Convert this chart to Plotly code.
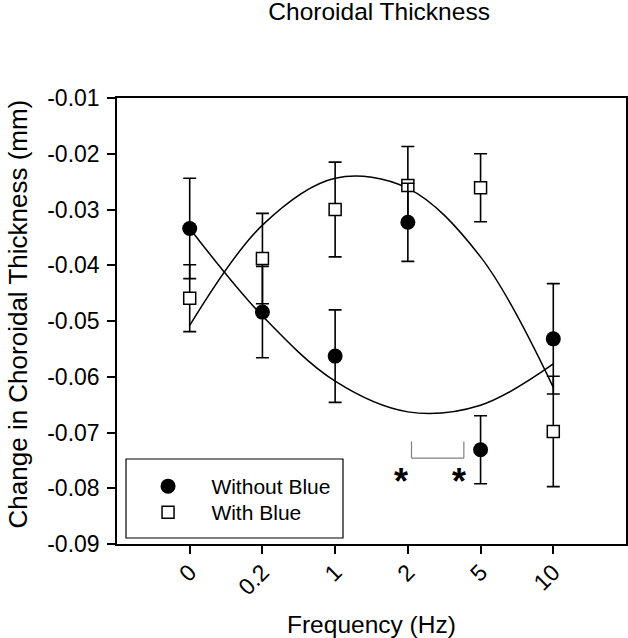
import plotly.graph_objects as go

# ---- data ----
freq_labels = ["0", "0.2", "1", "2", "5", "10"]

without_blue = [-0.0334, -0.0484, -0.0563, -0.0323, -0.0731, -0.0532]
without_blue_err = [0.0090, 0.0082, 0.0083, 0.0070, 0.0061, 0.0099]

with_blue = [-0.0459, -0.0388, -0.0300, -0.0257, -0.0261, -0.0698]
with_blue_err = [0.0060, 0.0081, 0.0085, 0.0070, 0.0061, 0.0099]

# fitted curves as drawn in the reference (value at each frequency)
without_blue_fit = [-0.0334, -0.0491, -0.0608, -0.0663, -0.0651, -0.0577]
with_blue_fit = [-0.0508, -0.0328, -0.0244, -0.0262, -0.0385, -0.0619]

y_tick_vals = [-0.01, -0.02, -0.03, -0.04, -0.05, -0.06, -0.07, -0.08, -0.09]
y_tick_text = ["-0.01", "-0.02", "-0.03", "-0.04", "-0.05", "-0.06", "-0.07", "-0.08", "-0.09"]

FONT = "Arial, 'Liberation Sans', Helvetica, sans-serif"
NBSP = "\u00a0" * 4

fig = go.Figure()

# fitted curves
fig.add_trace(go.Scatter(
    x=freq_labels, y=without_blue_fit, mode="lines",
    line=dict(color="black", width=1.5, shape="spline", smoothing=1.0),
    showlegend=False, hoverinfo="skip"))
fig.add_trace(go.Scatter(
    x=freq_labels, y=with_blue_fit, mode="lines",
    line=dict(color="black", width=1.5, shape="spline", smoothing=1.0),
    showlegend=False, hoverinfo="skip"))

# With Blue (open squares)
fig.add_trace(go.Scatter(
    x=freq_labels, y=with_blue, mode="markers", name=NBSP + "With Blue",
    legend="legend2",
    marker=dict(symbol="square", size=12, color="white",
                line=dict(color="black", width=1.5)),
    error_y=dict(type="data", array=with_blue_err, visible=True,
                 color="black", thickness=1.6, width=6.5)))

# Without Blue (filled circles)
fig.add_trace(go.Scatter(
    x=freq_labels, y=without_blue, mode="markers", name=NBSP + "Without Blue",
    legend="legend",
    marker=dict(symbol="circle", size=15, color="black",
                line=dict(color="black", width=0)),
    error_y=dict(type="data", array=without_blue_err, visible=True,
                 color="black", thickness=1.6, width=6.5)))

# significance bracket
bracket_color = "#808080"
fig.add_shape(type="line", xref="x", yref="y", x0=3.05, x1=3.05, y0=-0.0716, y1=-0.0746,
              line=dict(color=bracket_color, width=1.2))
fig.add_shape(type="line", xref="x", yref="y", x0=3.05, x1=3.77, y0=-0.0746, y1=-0.0746,
              line=dict(color=bracket_color, width=1.2))
fig.add_shape(type="line", xref="x", yref="y", x0=3.77, x1=3.77, y0=-0.0716, y1=-0.0746,
              line=dict(color=bracket_color, width=1.2))

for ax in (2.9, 3.7):
    fig.add_annotation(x=ax, y=-0.0783, xref="x", yref="y", text="<b>*</b>",
                       showarrow=False, yshift=-3,
                       font=dict(family=FONT, size=36, color="black"))

# legend frame
fig.add_shape(type="rect", xref="paper", yref="paper",
              x0=0.0177, x1=0.444, y0=0.0135, y1=0.1906,
              line=dict(color="black", width=1.2), fillcolor="white", layer="below")

# axis titles
fig.add_annotation(text="Frequency (Hz)", xref="paper", yref="paper",
                   x=0.5, y=-0.1795, xanchor="center", yanchor="middle", showarrow=False,
                   font=dict(family=FONT, size=24.5, color="black"))
fig.add_annotation(text="Change in Choroidal Thickness (mm)", xref="paper", yref="paper",
                   x=-0.1945, y=0.517, xanchor="center", yanchor="middle", showarrow=False,
                   textangle=-90, font=dict(family=FONT, size=26, color="black"))

axis_common = dict(
    showline=True, linecolor="black", linewidth=1.5, mirror=True,
    ticks="outside", ticklen=8, tickwidth=1.5, tickcolor="black",
    showgrid=False, zeroline=False, automargin=False,
    tickfont=dict(family=FONT, size=23, color="black"),
)

legend_common = dict(
    xanchor="left", yanchor="top", bgcolor="rgba(0,0,0,0)", borderwidth=0,
    font=dict(family=FONT, size=21, color="black"),
)

fig.update_layout(
    width=628, height=638,
    margin=dict(l=117, r=2, t=98, b=94, autoexpand=False),
    paper_bgcolor="white", plot_bgcolor="white",
    font=dict(family=FONT, color="black"),
    title=dict(text="Choroidal Thickness", x=0.515, xref="paper", xanchor="center",
               y=1 - 11 / 638, yref="container", yanchor="middle",
               font=dict(family=FONT, size=24.5, color="black")),
    xaxis=dict(type="category", range=[-1, 6], tickangle=-45, ticklabelstandoff=-4,
               **axis_common),
    yaxis=dict(range=[-0.09, -0.01], tickvals=y_tick_vals, ticktext=y_tick_text,
               ticklabelstandoff=3, **axis_common),
    legend=dict(x=0.061, y=0.1749, **legend_common),
    legend2=dict(x=0.061, y=0.1166, **legend_common),
    showlegend=True,
)

fig.write_html("out.html",
               config={"displayModeBar": False},
               post_script="document.body.style.margin='0';document.body.style.padding='0';")
